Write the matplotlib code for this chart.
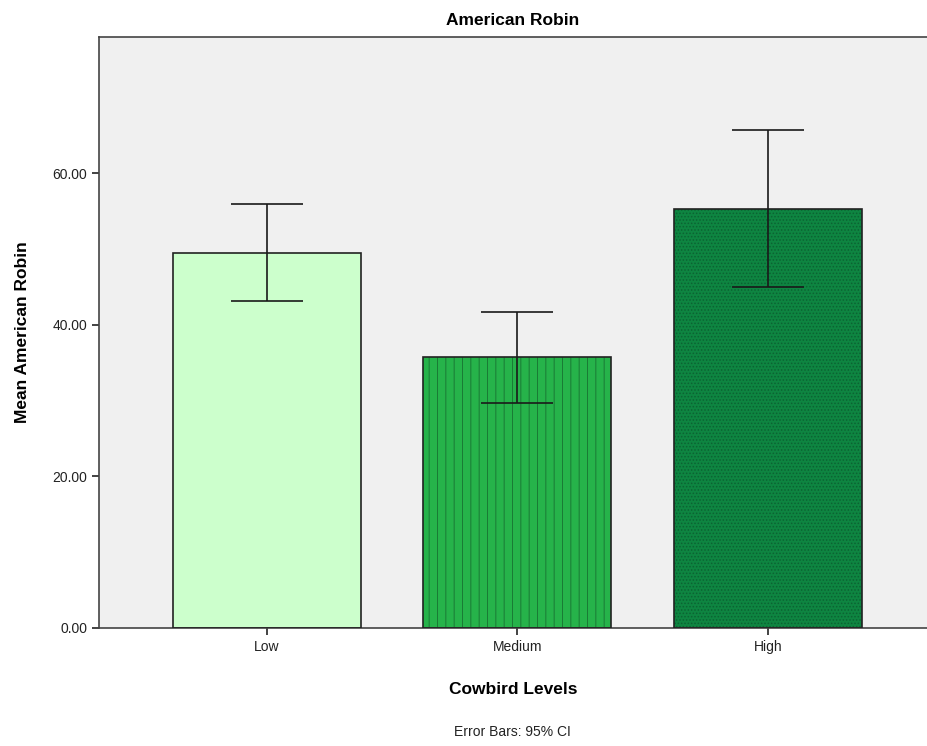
import matplotlib
matplotlib.use('Agg')
from matplotlib import pyplot as plt

plt.rcParams['font.family'] = ['Liberation Sans', 'DejaVu Sans']

# data
levels = ['Low', 'Medium', 'High']
means = [49.45, 35.75, 55.25]
ci_low = [43.1, 29.65, 44.95]
ci_high = [55.9, 41.7, 65.7]
colors = ['#ccffcc', '#26b34a', '#0e8541']
hatches = ['', '||', '.....']
hatch_colors = ['#000000', '#1a7a35', '#0b6332']

fig = plt.figure(figsize=(9.27, 7.46), dpi=100)
ax = fig.add_axes([0.1068, 0.1582, 0.8932, 0.7922])
ax.set_facecolor('#f0f0f0')

x = list(range(len(levels)))
for i in x:
    ax.bar(i, means[i], width=0.75, color=colors[i], linewidth=0, zorder=2)
    if hatches[i]:
        # hatch colour differs from edge colour, so draw the hatch separately
        plt.rcParams['hatch.linewidth'] = 0.7
        ax.bar(i, means[i], width=0.75, color='none', edgecolor=hatch_colors[i], linewidth=0,
               hatch=hatches[i], zorder=2.5)
    ax.bar(i, means[i], width=0.75, color='none', edgecolor='#222222', linewidth=1.2, zorder=3)

err_lo = [m - l for m, l in zip(means, ci_low)]
err_hi = [h - m for m, h in zip(means, ci_high)]
ax.errorbar(x, means, yerr=[err_lo, err_hi], fmt='none', ecolor='#1a1a1a',
            elinewidth=1.2, capsize=26, capthick=1.2, zorder=4)

ax.set_xlim(-0.67, 2.635)
ax.set_ylim(0, 78)
ax.set_yticks([0, 20, 40, 60])
ax.set_yticklabels(['%.2f' % v for v in [0, 20, 40, 60]])
ax.set_xticks(x)
ax.set_xticklabels(levels)
ax.tick_params(axis='both', labelsize=10, colors='#222222', length=5, width=1.2)

for side in ['left', 'bottom', 'top']:
    ax.spines[side].set_color('#444444')
    ax.spines[side].set_linewidth(1.2)
ax.spines['right'].set_visible(False)

ax.set_title('American Robin', fontsize=12.5, fontweight='bold', pad=9)
ax.set_ylabel('Mean American Robin', fontsize=12.5, fontweight='bold', labelpad=16)
ax.set_xlabel('Cowbird Levels', fontsize=12.5, fontweight='bold', labelpad=20)
fig.text(0.553, 0.01, 'Error Bars: 95% CI', fontsize=10, ha='center', va='bottom', color='#222222')

fig.savefig('out.png', dpi=100)
